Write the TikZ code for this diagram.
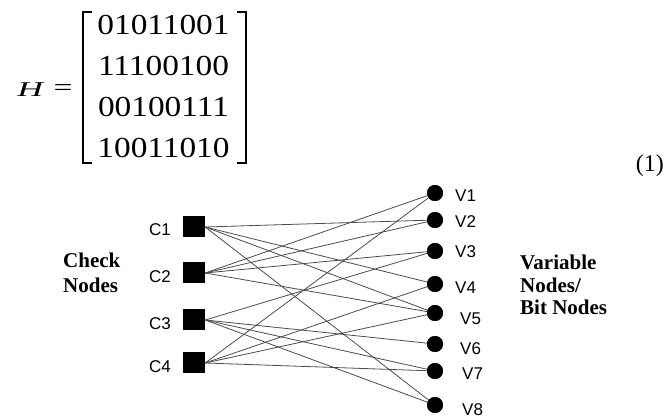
\documentclass[tikz,border=0pt]{standalone}
\usepackage{fontspec}
\setmainfont{Liberation Serif}
\setsansfont{Liberation Sans}
\begin{document}
\begin{tikzpicture}[x=1pt,y=-1pt,
  chk/.style={draw=none,fill=black,minimum width=22pt,minimum height=21pt,inner sep=0pt},
  var/.style={circle,fill=black,minimum size=16pt,inner sep=0pt},
  lab/.style={font=\sffamily\fontsize{17}{17}\selectfont,inner sep=0pt},
  side/.style={font=\bfseries\fontsize{21}{21}\selectfont,inner sep=0pt,anchor=base west},
  row/.style={inner sep=0pt,font=\fontsize{29}{29}\selectfont},
  edge/.style={draw=black!70,line width=0.8pt},
  brk/.style={line width=1.3pt}
]
\useasboundingbox (0,0) rectangle (665,419);
% equation
\node[inner sep=0pt,font=\fontsize{21}{21}\selectfont] (H) at (31,90) {\scalebox{1.7}[1]{\textit{H}}};
\node[inner sep=0pt,font=\fontsize{24}{24}\selectfont] (eq) at (63,90) {\scalebox{1.4}[1]{=}};
\node[row] (r1) at (163.5,25) {\scalebox{1.15}[1]{01011001}};
\node[row] (r2) at (163.5,66) {\scalebox{1.15}[1]{11100100}};
\node[row] (r3) at (163.5,107) {\scalebox{1.15}[1]{00100111}};
\node[row] (r4) at (163.5,148) {\scalebox{1.15}[1]{10011010}};
\draw[brk] (92,12) -- (83,12) -- (83,163) -- (92,163);
\draw[brk] (237,12) -- (246,12) -- (246,163) -- (237,163);
\node[inner sep=0pt,anchor=east,font=\fontsize{24}{24}\selectfont] (num) at (664,166) {(1)};
% check nodes
\node[chk] (c1) at (194,227) {};
\node[chk] (c2) at (194,273) {};
\node[chk] (c3) at (194,320) {};
\node[chk] (c4) at (194,363) {};
\node[lab,anchor=east] (lc1) at (171,230) {C1};
\node[lab,anchor=east] (lc2) at (171,276.5) {C2};
\node[lab,anchor=east] (lc3) at (171,323.5) {C3};
\node[lab,anchor=east] (lc4) at (171,366.5) {C4};
% variable nodes
\node[var] (v1) at (435,193) {};
\node[var] (v2) at (435,220) {};
\node[var] (v3) at (435,251) {};
\node[var] (v4) at (435,284) {};
\node[var] (v5) at (435,313) {};
\node[var] (v6) at (435,344) {};
\node[var] (v7) at (435,371) {};
\node[var] (v8) at (435,405) {};
\node[lab,anchor=west] (lv1) at (455,196) {V1};
\node[lab,anchor=west] (lv2) at (455,222) {V2};
\node[lab,anchor=west] (lv3) at (455,252) {V3};
\node[lab,anchor=west] (lv4) at (455,288) {V4};
\node[lab,anchor=west] (lv5) at (460,319) {V5};
\node[lab,anchor=west] (lv6) at (460,349) {V6};
\node[lab,anchor=west] (lv7) at (462,374) {V7};
\node[lab,anchor=west] (lv8) at (462,410) {V8};
% side labels
\node[side] (ck1) at (63,268) {Check};
\node[side] (ck2) at (63,293) {Nodes};
\node[side] (vb1) at (520,270) {Variable};
\node[side] (vb2) at (520,292.5) {Nodes/};
\node[side] (vb3) at (520,315) {Bit Nodes};
% edges
\foreach \c/\v in {c1/v2,c1/v4,c1/v5,c1/v8,
                   c2/v1,c2/v2,c2/v3,c2/v5,
                   c3/v3,c3/v6,c3/v7,c3/v8,
                   c4/v1,c4/v4,c4/v5,c4/v7}
  \draw[edge] (\c.east) -- (\v.center);
\foreach \v in {v1,v2,v3,v4,v5,v6,v7,v8}
  \fill (\v) circle (8pt);
\end{tikzpicture}
\end{document}
